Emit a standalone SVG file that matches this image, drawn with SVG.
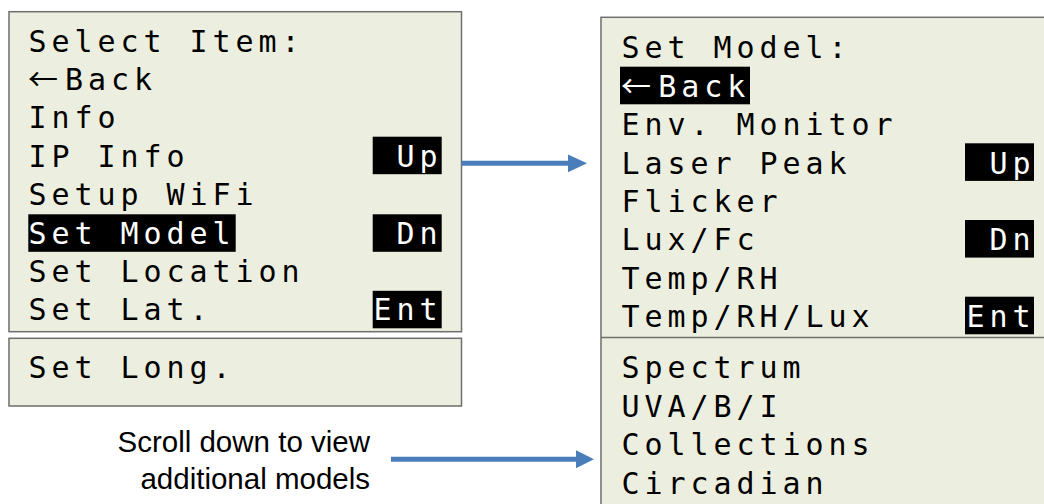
<svg xmlns="http://www.w3.org/2000/svg" width="1044" height="504" viewBox="0 0 1044 504">
<style>
.panel{fill:#ECEFDF;stroke:#6E6E6E;stroke-width:1.5}
.m{font-family:"DejaVu Sans Mono","Liberation Mono",monospace;font-size:30px;letter-spacing:4.94px;fill:#000}
.arr{font-family:"Noto Sans CJK SC","DejaVu Sans",sans-serif;font-size:30px;fill:#000}
.w{fill:#fff}
.hl{fill:#000}
.cap{font-family:"Liberation Sans",Arial,sans-serif;font-size:29.5px;fill:#000;text-anchor:end}
.conn{stroke:#4A7EBB;stroke-width:5;fill:none}
.head{fill:#4A7EBB}
</style>
<rect width="1044" height="504" fill="#fff"/>
<g id="select-item-menu">
<rect class="panel" x="9" y="11.7" width="452.5" height="320"/>
<text class="m" x="28.5" y="51.5">Select Item:</text>
<text class="arr" x="28" y="89.9">←</text>
<text class="m" x="65" y="89.9">Back</text>
<text class="m" x="28.5" y="128.3">Info</text>
<text class="m" x="28.5" y="166.7">IP Info</text>
<text class="m" x="28.5" y="205.1">Setup WiFi</text>
<rect class="hl" x="28.3" y="214.3" width="207.4" height="37.5"/>
<text class="m w" x="28.5" y="243.5">Set Model</text>
<text class="m" x="28.5" y="281.9">Set Location</text>
<text class="m" x="28.5" y="320.3">Set Lat.</text>
<rect class="hl" x="372.7" y="136.7" width="69" height="37.5"/>
<text class="m w" x="396.5" y="166.7">Up</text>
<rect class="hl" x="372.7" y="214.3" width="69" height="37.5"/>
<text class="m w" x="396.5" y="243.5">Dn</text>
<rect class="hl" x="372.7" y="290.8" width="69" height="37.5"/>
<text class="m w" x="373.5" y="320.3">Ent</text>
</g>
<g id="select-item-overflow">
<rect class="panel" x="9" y="338.3" width="452.5" height="67.7"/>
<text class="m" x="28.5" y="378.3">Set Long.</text>
</g>
<g id="set-model-menu">
<rect class="panel" x="601" y="17.3" width="470" height="500"/>
<line x1="601" y1="337.6" x2="1044" y2="337.6" stroke="#6E6E6E" stroke-width="1.5"/>
<text class="m" x="621.5" y="58.3">Set Model:</text>
<rect class="hl" x="620" y="66.7" width="130" height="37.6"/>
<text class="arr w" x="621" y="96.7">←</text>
<text class="m w" x="658.3" y="96.7">Back</text>
<text class="m" x="621.5" y="135.1">Env. Monitor</text>
<text class="m" x="621.5" y="173.5">Laser Peak</text>
<text class="m" x="621.5" y="211.9">Flicker</text>
<text class="m" x="621.5" y="250.3">Lux/Fc</text>
<text class="m" x="621.5" y="288.7">Temp/RH</text>
<text class="m" x="621.5" y="327.1">Temp/RH/Lux</text>
<rect class="hl" x="965" y="143.3" width="69" height="37.6"/>
<text class="m w" x="989.5" y="173.5">Up</text>
<rect class="hl" x="965" y="220" width="69" height="37.6"/>
<text class="m w" x="989.5" y="250.3">Dn</text>
<rect class="hl" x="965" y="296.7" width="69" height="37.6"/>
<text class="m w" x="966.5" y="327.1">Ent</text>
<text class="m" x="621.5" y="378.3">Spectrum</text>
<text class="m" x="621.5" y="416.7">UVA/B/I</text>
<text class="m" x="621.5" y="455.1">Collections</text>
<text class="m" x="621.5" y="493.5">Circadian</text>
</g>
<g id="scroll-note">
<text class="cap" x="370" y="451.7">Scroll down to view</text>
<text class="cap" x="370" y="489.3">additional models</text>
</g>
<g id="connectors">
<line class="conn" x1="461.7" y1="163.3" x2="570" y2="163.3"/>
<polygon class="head" points="568,154.5 587,163.3 568,172.3"/>
<line class="conn" x1="391" y1="459.3" x2="578" y2="459.3"/>
<polygon class="head" points="576,450.3 594,459.3 576,468.3"/>
</g>
</svg>
